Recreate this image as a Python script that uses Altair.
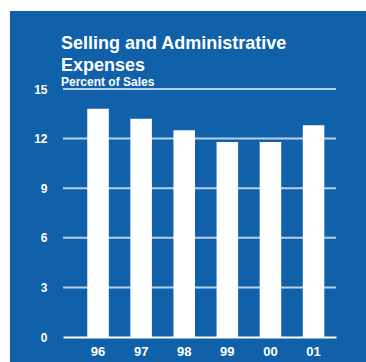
import altair as alt
import pandas as pd

years = ["96", "97", "98", "99", "00", "01"]
values = [13.8, 13.2, 12.5, 11.8, 11.8, 12.8]
y_ticks = [0, 3, 6, 9, 12, 15]
grid_ticks = [3, 6, 9, 12, 15]
title_lines = ["Selling and Administrative", "Expenses"]
subtitle = "Percent of Sales"

BLUE = "#1061aa"
GRID = "#b8cfe8"
FONT = "Liberation Sans"
W, H = 273, 248

df = pd.DataFrame({"year": years, "value": values})
gdf = pd.DataFrame({"value": grid_ticks})
one = pd.DataFrame({"a": [0]})

yaxis = alt.Axis(
    values=y_ticks, title=None, grid=False, domain=False, ticks=False,
    labelPadding=16, labelColor="white", labelFont=FONT,
    labelFontSize=12, labelFontWeight="bold", zindex=1,
)
yscale = alt.Scale(domain=[0, 15])

bg = alt.Chart(one).mark_rect(color=BLUE, clip=False).encode(
    x=alt.value(-53), x2=alt.value(W + 60), y=alt.value(-78), y2=alt.value(H + 60)
)

grid = alt.Chart(gdf).mark_rule(color=GRID, strokeWidth=2).encode(
    y=alt.Y("value:Q", scale=yscale, axis=yaxis),
    x=alt.value(0),
    x2=alt.value(W),
)

bars = alt.Chart(df).mark_bar(color="white").encode(
    x=alt.X(
        "year:N",
        sort=years,
        scale=alt.Scale(paddingInner=0.5, paddingOuter=0.417, align=0.675),
        axis=alt.Axis(
            title=None, labelAngle=0, labelColor="white", labelFont=FONT,
            labelFontSize=13, labelFontWeight="bold", ticks=False,
            domainColor="white", domainWidth=2, labelPadding=8, zindex=1,
        ),
    ),
    y=alt.Y("value:Q", scale=yscale, axis=yaxis),
)

t1 = alt.Chart(one).mark_text(
    text=title_lines[0], font=FONT, fontSize=18, fontWeight="bold", color="white",
    align="left", baseline="alphabetic",
).encode(x=alt.value(-2), y=alt.value(-40))
t2 = alt.Chart(one).mark_text(
    text=title_lines[1], font=FONT, fontSize=18, fontWeight="bold", color="white",
    align="left", baseline="alphabetic",
).encode(x=alt.value(-2), y=alt.value(-18))
t3 = alt.Chart(one).mark_text(
    text=subtitle, font=FONT, fontSize=12, fontWeight="bold", color="white",
    align="left", baseline="alphabetic",
).encode(x=alt.value(-2), y=alt.value(-3.5))

chart = alt.layer(bg, grid, bars, t1, t2, t3).properties(
    width=W,
    height=H,
    background="white",
    padding={"left": 63, "top": 89, "right": 30, "bottom": 25},
    autosize=alt.AutoSizeParams(type="none"),
).configure_view(stroke=None)

chart.save("out.html", embed_options={"renderer": "svg", "actions": False})
